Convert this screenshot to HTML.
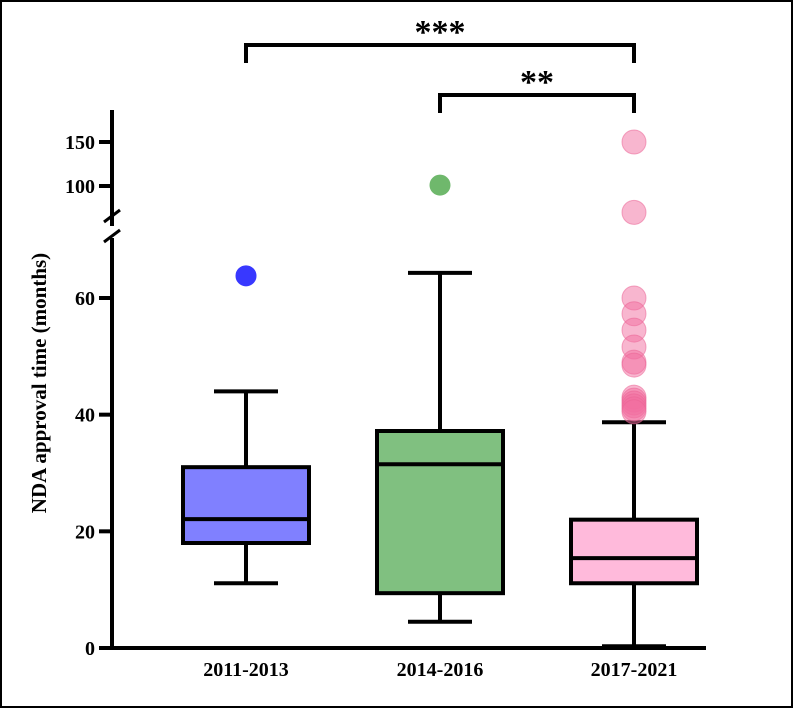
<!DOCTYPE html>
<html><head><meta charset="utf-8"><style>
html,body{margin:0;padding:0;background:#fff}
svg{display:block}
text{font-family:"Liberation Serif",serif;font-weight:bold;fill:#000}
</style></head><body>
<svg id="chart" width="793" height="708">
<rect x="1" y="1" width="791" height="706" fill="#fff" stroke="#000" stroke-width="2"/>
<g id="g"></g>
</svg>
<script>
const categories=["2011-2013","2014-2016","2017-2021"];
const q1=[18,9.4,11.1];
const medians=[22.1,31.5,15.4];
const q3=[31,37.2,22];
const whiskLow=[11.1,4.5,0.3];
const whiskHigh=[44,64.3,38.7];
const outliers0=[63.8];
const outliers1=[101];
const outliers2=[150,70,60,57.3,54.5,51.6,49,48.5,43,42.5,42,41.5,41,40.5];
const lowTicks=[0,20,40,60];
const highTicks=[100,150];
const fills=["#8080ff","#80c080","#ffbadb"];
const outColors=["#3838ff","#6fb86c","rgba(242,110,160,0.5)"];
const outStroke=["#3838ff","#6fb86c","rgba(235,100,150,0.55)"];

const NS="http://www.w3.org/2000/svg";
const g=document.getElementById('g');
function el(t,a,p){const e=document.createElementNS(NS,t);for(const k in a)e.setAttribute(k,a[k]);(p||g).appendChild(e);return e;}
function y(v){ if(v<=65) return 648-v*(350/60); return 186-(v-100)*0.88; }
function x(i){ return 246+i*194; }
const axX=112;

let e;
e=el('line',{x1:axX,y1:110,x2:axX,y2:226,stroke:'#000','stroke-width':4});


e=el('line',{x1:axX,y1:238,x2:axX,y2:650,stroke:'#000','stroke-width':4});


el('line',{x1:104,y1:222,x2:120,y2:210,stroke:'#000','stroke-width':3});
el('line',{x1:104,y1:242,x2:120,y2:230,stroke:'#000','stroke-width':3});
e=el('line',{x1:110,y1:648,x2:706,y2:648,stroke:'#000','stroke-width':4});


lowTicks.concat(highTicks).forEach(v=>{
  el('line',{x1:99,y1:y(v),x2:axX,y2:y(v),stroke:'#000','stroke-width':4});
  const t=el('text',{x:95,y:y(v)+7,'text-anchor':'end','font-size':20});
  t.textContent=v;
  
  
});
let t=el('text',{transform:'translate(46,383) rotate(-90)','text-anchor':'middle','font-size':21});
t.textContent='NDA approval time (months)';



const outs=[outliers0,outliers1,outliers2];
categories.forEach((c,i)=>{
  const cx=x(i), hw=63, cap=32;
  const grp=el('g',{});
  
  
  el('line',{x1:cx,y1:y(whiskHigh[i]),x2:cx,y2:y(q3[i]),stroke:'#000','stroke-width':4},grp);
  el('line',{x1:cx,y1:y(whiskLow[i]),x2:cx,y2:y(q1[i]),stroke:'#000','stroke-width':4},grp);
  el('line',{x1:cx-cap,y1:y(whiskHigh[i]),x2:cx+cap,y2:y(whiskHigh[i]),stroke:'#000','stroke-width':4},grp);
  el('line',{x1:cx-cap,y1:y(whiskLow[i]),x2:cx+cap,y2:y(whiskLow[i]),stroke:'#000','stroke-width':4},grp);
  el('rect',{x:cx-hw,y:y(q3[i]),width:hw*2,height:y(q1[i])-y(q3[i]),fill:fills[i],stroke:'#000','stroke-width':4},grp);
  el('line',{x1:cx-hw,y1:y(medians[i]),x2:cx+hw,y2:y(medians[i]),stroke:'#000','stroke-width':4},grp);
  outs[i].forEach(v=>{
    const o=el('circle',{cx:cx,cy:y(v),r:i==2?12:10,fill:outColors[i],stroke:outStroke[i],'stroke-width':1});
    
    
  });
  const l=el('text',{x:cx,y:676,'text-anchor':'middle','font-size':20});
  l.textContent=c;
  
  
});

function bracket(a,b,yy,yd,label,name){
  const p=el('path',{d:`M${x(a)},${yd} L${x(a)},${yy} L${x(b)},${yy} L${x(b)},${yd}`,fill:'none',stroke:'#000','stroke-width':4});
  
  
  const s=el('text',{x:(x(a)+x(b))/2,y:yy-2,'text-anchor':'middle','font-size':34});
  s.textContent=label;
  
  
}
bracket(0,2,45,63,'***','significance-bracket-1-3');
bracket(1,2,95,113,'**','significance-bracket-2-3');
</script>
</body></html>
